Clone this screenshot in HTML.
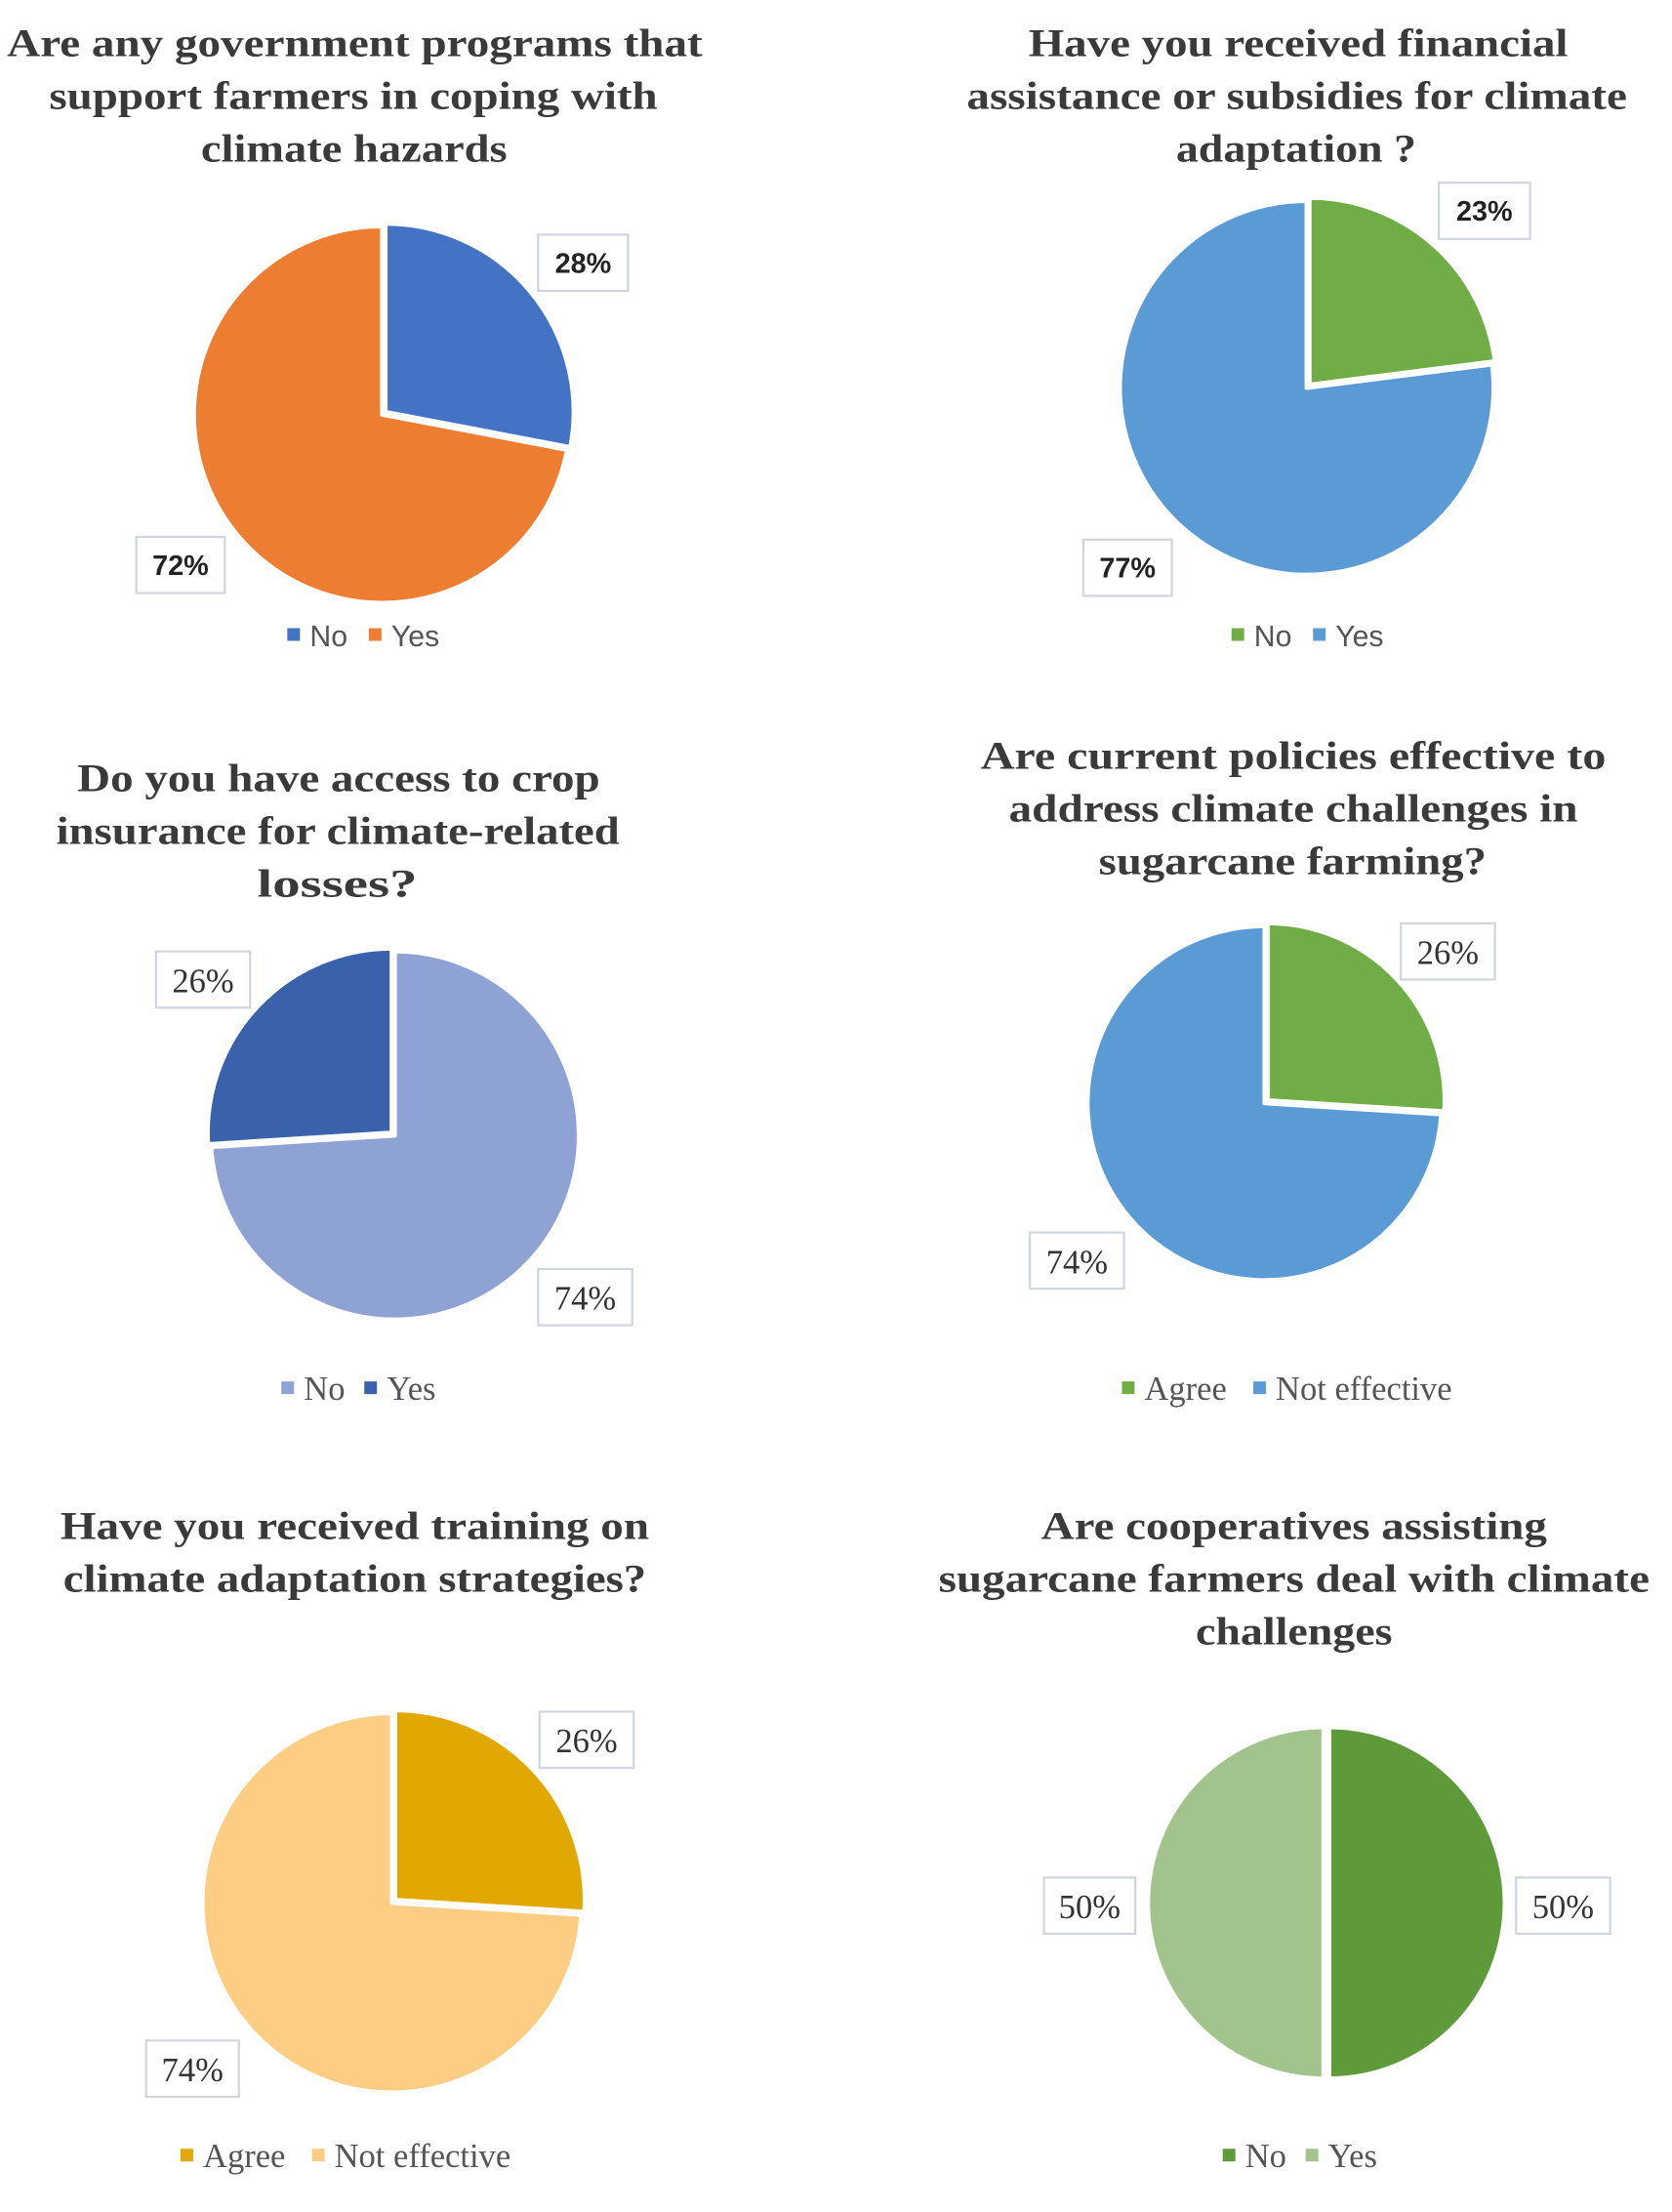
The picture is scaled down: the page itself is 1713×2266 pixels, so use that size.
<!DOCTYPE html>
<html><head><meta charset="utf-8"><style>
html,body{margin:0;padding:0;background:#fff;}
svg{display:block;}
.t{font-family:"Liberation Serif",serif;font-weight:bold;font-size:28px;fill:#3a3a3a;}
.lb{font-family:"Liberation Sans",sans-serif;font-weight:bold;font-size:20px;fill:#222;text-anchor:middle;}
.ls{font-family:"Liberation Serif",serif;font-size:24px;fill:#333;text-anchor:middle;}
.lgs{font-family:"Liberation Sans",sans-serif;font-size:21px;fill:#555;}
.lgr{font-family:"Liberation Serif",serif;font-size:24px;fill:#555;}
</style></head><body>
<svg id="fig" width="1713" height="2266" viewBox="0 0 1190 1574" preserveAspectRatio="none" xmlns="http://www.w3.org/2000/svg"></svg>
<script>
const titles1=["Are any government programs that","support farmers in coping with","climate hazards"];
const cats1=["No","Yes"]; const vals1=[28,72];
const titles2=["Have you received financial","assistance or subsidies for climate","adaptation ?"];
const cats2=["No","Yes"]; const vals2=[23,77];
const titles3=["Do you have access to crop","insurance for climate-related","losses?"];
const cats3=["No","Yes"]; const vals3=[74,26];
const titles4=["Are current policies  effective to","address climate challenges in","sugarcane farming?"];
const cats4=["Agree","Not effective"]; const vals4=[26,74];
const titles5=["Have you received training on","climate adaptation strategies?"];
const cats5=["Agree","Not effective"]; const vals5=[26,74];
const titles6=["Are cooperatives assisting","sugarcane farmers deal with climate","challenges"];
const cats6=["No","Yes"]; const vals6=[50,50];

const NS="http://www.w3.org/2000/svg";
const svg=document.getElementById('fig');
function mk(tag,attrs,parent){const e=document.createElementNS(NS,tag);for(const k in attrs)e.setAttribute(k,attrs[k]);(parent||svg).appendChild(e);return e;}
const charts=[
 {t:titles1,tw:[[5,500],[35,468],[143,361]],c:cats1,v:vals1,col:["#4472c4","#ed7d31"],cx:272,cy:295,r:134,ty:30,lab:"lb",lg:"lgs",lgy:452,lgx:258,boxes:[[383,167,64],[97,382,63]],ex:[3,0]},
 {t:titles2,tw:[[732,1116],[688,1158],[837,1008]],c:cats2,v:vals2,col:["#70ad47","#5b9bd5"],cx:930,cy:276,r:133,ty:30,lab:"lb",lg:"lgs",lgy:452,lgx:930,boxes:[[1024,130,65],[771,384,63]],ex:[3,0]},
 {t:titles3,tw:[[55,427],[40,441],[183,297]],c:cats3,v:vals3,col:["#8fa2d4","#3a62aa"],cx:281,cy:808,r:131,ty:553,lab:"ls",lg:"lgr",lgy:988,lgx:255,boxes:[[383,903,67],[111,677,67]],ex:[0,3]},
 {t:titles4,tw:[[698,1143],[718,1123],[782,1058]],c:cats4,v:vals4,col:["#70ad47","#5b9bd5"],cx:900,cy:785,r:126,ty:537,lab:"ls",lg:"lgr",lgy:988,lgx:928,boxes:[[997,657,67],[733,877,67]],ex:[3,0]},
 {t:titles5,tw:[[43,462],[45,460]],c:cats5,v:vals5,col:["#e0a800","#fdcd84"],cx:279,cy:1354,r:135,ty:1085,lab:"ls",lg:"lgr",lgy:1534,lgx:258,boxes:[[384,1218,67],[104,1452,66]],ex:[3,0]},
 {t:titles6,tw:[[741,1101],[668,1174],[851,991]],c:cats6,v:vals6,col:["#5f9a3a","#a2c48c"],cx:944,cy:1354,r:125,ty:1085,lab:"ls",lg:"lgr",lgy:1534,lgx:925,boxes:[[1079,1336,67],[743,1336,65]],ex:[2,2]}
];
charts.forEach((ch,ci)=>{
 const g=mk('g',{});
 
 
 ch.t.forEach((line,i)=>{const w=ch.tw[i];
  const tx=mk('text',{x:w[0],y:ch.ty+i*37.5+10,class:'t',textLength:w[1]-w[0],lengthAdjust:'spacingAndGlyphs'},g);tx.textContent=line;
  });
 const total=ch.v.reduce((a,b)=>a+b,0);
 let a0=0;
 ch.v.forEach((val,i)=>{
  const a1=a0+val/total*2*Math.PI;
  const mid=(a0+a1)/2, off=ch.ex[i];
  const cx=ch.cx+off*Math.sin(mid), cy=ch.cy-off*Math.cos(mid);
  const x0=cx+ch.r*Math.sin(a0), y0=cy-ch.r*Math.cos(a0);
  const x1=cx+ch.r*Math.sin(a1), y1=cy-ch.r*Math.cos(a1);
  const large=(a1-a0)>Math.PI?1:0;
  const p=mk('path',{d:`M${cx},${cy} L${x0},${y0} A${ch.r},${ch.r} 0 ${large} 1 ${x1},${y1} Z`,fill:ch.col[i],stroke:'#fff','stroke-width':3,'stroke-linejoin':'round'},g);
  
  
  const b=ch.boxes[i];
  const rc=mk('rect',{x:b[0],y:b[1],width:b[2],height:40,fill:'#fff',stroke:'#d0d4dc','stroke-width':1.5},g);
  
  
  const lt=mk('text',{x:b[0]+b[2]/2,y:b[1]+(ch.lab==='lb'?27:29),class:ch.lab},g);
  lt.textContent=val+'%';
  
  
  a0=a1;
 });
 const cw=ch.lg==='lgs'?11:11.5;
 const w=ch.c.map(s=>s.length*cw+16);
 const totalW=w.reduce((a,b)=>a+b,0)+20;
 let x=ch.lgx-totalW/2;
 ch.c.forEach((name,i)=>{
  const sq=mk('rect',{x:x,y:ch.lgy-5,width:9,height:9,fill:ch.col[i]},g);
  
  
  const t=mk('text',{x:x+16,y:ch.lgy+8,class:ch.lg},g);
  t.textContent=name;
  
  
  x+=w[i]+20;
 });
});
</script>
</body></html>
